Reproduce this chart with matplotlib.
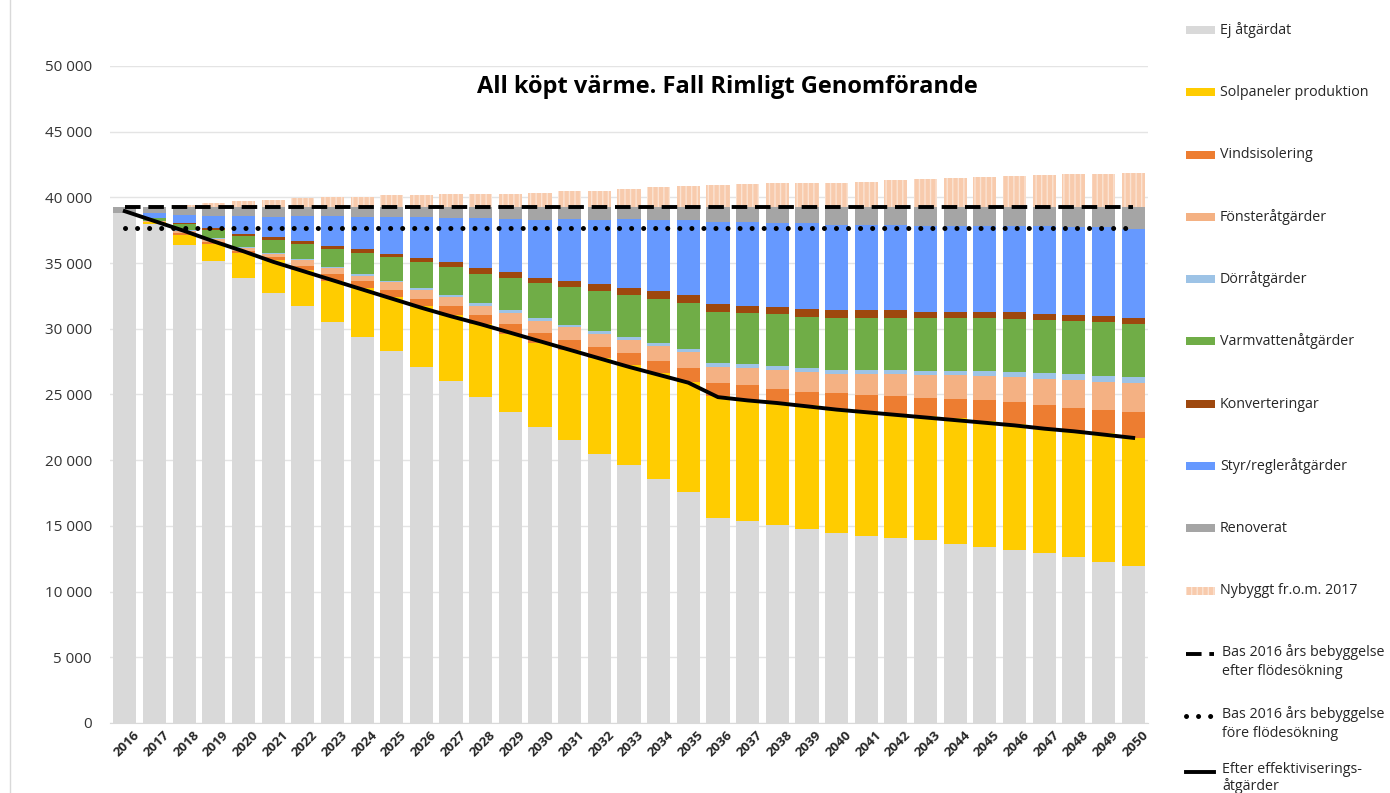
import numpy as np
import matplotlib
matplotlib.use("Agg")
import matplotlib.pyplot as plt
from matplotlib.patches import Rectangle
from matplotlib.lines import Line2D
from matplotlib.ticker import FuncFormatter, MultipleLocator
import matplotlib.transforms as mtransforms

plt.rcParams['font.family'] = ['Open Sans', 'DejaVu Sans']

years = list(range(2016, 2051))

ej_atgardat = [38850, 38000, 36400, 35150, 33900, 32750, 31700, 30500, 29400, 28300,
               27100, 26000, 24800, 23700, 22550, 21550, 20500, 19600, 18600, 17600,
               15600, 15350, 15100, 14800, 14450, 14250, 14050, 13900, 13650, 13400,
               13200, 12900, 12600, 12250, 11950]
solpaneler = [0, 100, 750, 1300, 1850, 2450, 2750, 3150, 3700, 4100,
              4600, 5050, 5550, 5900, 6400, 6800, 7250, 7650, 8000, 8350,
              9250, 9250, 9300, 9400, 9400, 9450, 9500, 9450, 9550, 9550,
              9550, 9550, 9650, 9800, 9750]
vindsisolering = [0, 50, 150, 150, 200, 300, 350, 500, 500, 550,
                  600, 650, 700, 800, 750, 800, 900, 900, 950, 1050,
                  1050, 1100, 1050, 1000, 1250, 1250, 1300, 1350, 1450, 1650,
                  1650, 1750, 1750, 1750, 1950]
fonster = [0, 50, 150, 200, 200, 200, 400, 450, 450, 600,
           650, 700, 700, 800, 900, 950, 950, 1000, 1150, 1250,
           1200, 1300, 1400, 1500, 1450, 1600, 1700, 1800, 1800, 1800,
           1900, 1950, 2100, 2150, 2200]
dorr = [0, 20, 50, 80, 100, 100, 100, 120, 120, 120,
        130, 170, 200, 200, 200, 200, 200, 250, 200, 200,
        300, 300, 300, 350, 300, 300, 300, 300, 350, 400,
        400, 450, 450, 450, 450]
varmvatten = [0, 180, 500, 670, 850, 950, 1150, 1380, 1580, 1780,
              2020, 2130, 2250, 2450, 2650, 2850, 3100, 3150, 3400, 3550,
              3900, 3900, 3950, 3850, 4000, 4000, 4000, 4000, 4000, 4000,
              4050, 4050, 4050, 4150, 4100]
konverteringar = [0, 50, 80, 150, 150, 200, 200, 200, 300, 220,
                  270, 350, 450, 450, 450, 500, 500, 550, 550, 550,
                  600, 550, 550, 600, 550, 550, 550, 500, 500, 500,
                  500, 500, 450, 400, 450]
styr_regler = [0, 350, 570, 900, 1300, 1550, 1900, 2250, 2450, 2830,
               3130, 3400, 3750, 4050, 4400, 4700, 4900, 5250, 5450, 5750,
               6250, 6350, 6400, 6550, 6500, 6500, 6500, 6550, 6550, 6550,
               6600, 6650, 6700, 6800, 6750]
renoverat = [450, 500, 650, 700, 750, 800, 750, 750, 800, 800,
             800, 850, 900, 950, 1000, 950, 1000, 950, 1000, 1000,
             1150, 1200, 1250, 1250, 1400, 1400, 1400, 1450, 1450, 1450,
             1450, 1500, 1550, 1550, 1700]
nybyggt = [0, 0, 100, 300, 450, 500, 650, 700, 700, 850,
           900, 950, 950, 950, 1000, 1150, 1200, 1350, 1500, 1600,
           1650, 1750, 1800, 1800, 1800, 1900, 2000, 2100, 2150, 2250,
           2350, 2400, 2450, 2500, 2550]

efter_effektivisering = [38950, 38200, 37450, 36650, 35900, 35100, 34400, 33700, 33000, 32300,
                         31600, 30950, 30350, 29700, 29050, 28400, 27750, 27100, 26500, 25900,
                         24800, 24550, 24350, 24100, 23850, 23650, 23450, 23250, 23050, 22850,
                         22650, 22400, 22200, 21950, 21700]
bas_efter_flodesokning = 39300
bas_fore_flodesokning = 37650

series = [
    ("Ej åtgärdat", ej_atgardat, "#D9D9D9"),
    ("Solpaneler produktion", solpaneler, "#FFCC00"),
    ("Vindsisolering", vindsisolering, "#ED7D31"),
    ("Fönsteråtgärder", fonster, "#F4B183"),
    ("Dörråtgärder", dorr, "#9DC3E6"),
    ("Varmvattenåtgärder", varmvatten, "#70AD47"),
    ("Konverteringar", konverteringar, "#9E480E"),
    ("Styr/regleråtgärder", styr_regler, "#6699FF"),
    ("Renoverat", renoverat, "#A5A5A5"),
    ("Nybyggt fr.o.m. 2017", nybyggt, "#F8CBAD"),
]

DASHED = dict(dashes=(4.0, 2.0), lw=2.8)
DOTTED = dict(dashes=(0.01, 2.4), lw=3.6, dash_capstyle="round")
SOLID = dict(lw=2.8, solid_joinstyle="round")

W, H = 1390, 793
fig = plt.figure(figsize=(W / 100, H / 100), dpi=100)
ax = fig.add_axes([110 / W, 1 - 723 / H, 1038 / W, (723 - 66) / H])

x = np.arange(len(years))
bottom = np.zeros(len(years))
for name, vals, col in series:
    vals = np.array(vals, dtype=float)
    if name.startswith("Nybyggt"):
        ax.bar(x, vals, bottom=bottom, width=0.78, color=col, edgecolor="#FBE3D3",
               linewidth=0, hatch="|||", zorder=2)
    else:
        ax.bar(x, vals, bottom=bottom, width=0.78, color=col, linewidth=0, zorder=2)
    bottom += vals

ax.plot([x[0], x[-1]], [bas_efter_flodesokning] * 2, color="black", zorder=4, **DASHED)
ax.plot([x[0], x[-1]], [bas_fore_flodesokning] * 2, color="black", zorder=4, **DOTTED)
ax.plot(x, efter_effektivisering, color="black", zorder=5, **SOLID)

ax.set_xlim(-0.5, len(years) - 0.5)
ax.set_ylim(0, 50000)
ax.yaxis.set_major_locator(MultipleLocator(5000))
ax.yaxis.set_major_formatter(FuncFormatter(lambda v, p: f"{int(v):,}".replace(",", " ")))
ax.grid(axis="y", color="#E4E4E4", lw=1, zorder=0)
ax.set_axisbelow(True)
for s in ["top", "right", "left"]:
    ax.spines[s].set_visible(False)
ax.spines["bottom"].set_color("#D9D9D9")
ax.tick_params(axis="y", length=0, pad=13, labelsize=11, labelcolor="#333333")
ax.tick_params(axis="x", length=0, pad=4, labelsize=9.5, labelcolor="#262626")
ax.set_xticks(x)
ax.set_xticklabels([str(y) for y in years], rotation=45, ha="right", va="top",
                   rotation_mode="anchor", fontweight="bold")
offset = mtransforms.ScaledTranslation(6 / 72, 0, fig.dpi_scale_trans)
for lab in ax.get_xticklabels():
    lab.set_transform(lab.get_transform() + offset)

fig.text(727 / W, 1 - 87 / H, "All köpt värme. Fall Rimligt Genomförande",
         ha="center", va="center", fontsize=17, fontweight="bold", color="black")

# left border line
fig.add_artist(Line2D([10 / W, 10 / W], [0, 1], transform=fig.transFigure,
                      color="#D9D9D9", lw=1))

# manual legend
ys = [30, 92, 155, 217, 279, 341, 404, 466, 528, 591]
for (name, vals, col), yc in zip(series, ys):
    if name.startswith("Nybyggt"):
        r = Rectangle((1186 / W, 1 - (yc + 4) / H), 29 / W, 8 / H, transform=fig.transFigure,
                      facecolor=col, edgecolor="#FBE3D3", lw=0, hatch="|||")
    else:
        r = Rectangle((1186 / W, 1 - (yc + 4) / H), 29 / W, 8 / H, transform=fig.transFigure,
                      facecolor=col, edgecolor="none", lw=0)
    fig.add_artist(r)
    fig.text(1220 / W, 1 - yc / H, name, ha="left", va="center", fontsize=10.3, color="#262626")

lines_leg = [
    (654, "Bas 2016 års bebyggelse\nefter flödesökning", DASHED, 1.35),
    (716, "Bas 2016 års bebyggelse\nföre flödesökning", DOTTED, 1.35),
    (772, "Efter effektiviserings-\nåtgärder", SOLID, 1.05),
]
for yc, lab, kw, ls in lines_leg:
    fig.add_artist(Line2D([1186 / W, 1214 / W], [1 - yc / H] * 2, transform=fig.transFigure,
                          color="black", **kw))
    fig.text(1222 / W, 1 - (yc - 10) / H, lab, ha="left", va="top", fontsize=10.3,
             color="#262626", linespacing=ls)

fig.savefig("out.png", dpi=100)
